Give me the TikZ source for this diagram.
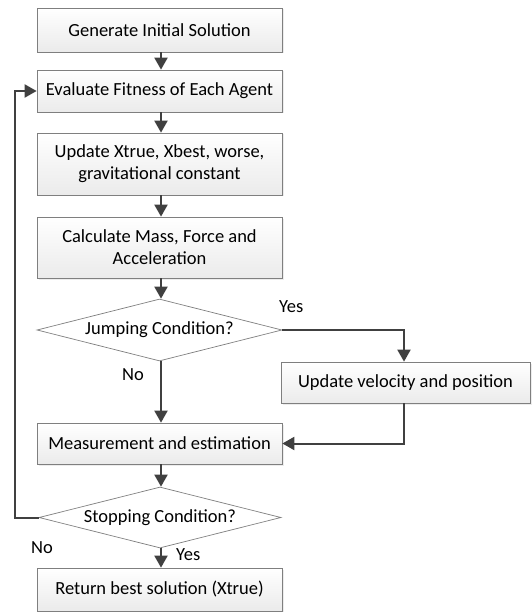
\documentclass[tikz,border=0pt]{standalone}
\usepackage{fontspec}
\setmainfont{Carlito}
\usetikzlibrary{arrows.meta, shapes.geometric, shadows}

\definecolor{linegray}{HTML}{404040}
\definecolor{boxgray}{HTML}{7F7F7F}

\tikzset{
  stepbox/.style={draw=boxgray, line width=0.7pt, top color=white, bottom color=gray!16,
    minimum width=245pt, inner sep=0pt, align=center, font=\fontsize{18.5}{22}\selectfont,
    drop shadow={opacity=0.15, shadow xshift=1.5pt, shadow yshift=-1.5pt}},
  decision/.style={draw=boxgray, line width=0.7pt, fill=white, diamond, inner sep=0pt,
    font=\fontsize{18.5}{22}\selectfont},
  flow/.style={draw=linegray, line width=2pt, -{Triangle[length=12pt, width=13pt]}},
  tag/.style={font=\fontsize{18.5}{22}\selectfont, inner sep=0pt}
}

\begin{document}
\begin{tikzpicture}[x=1pt, y=-1pt]
	\useasboundingbox (0,0) rectangle (531,612);
	% boxes of the main column
	\node[stepbox, minimum height=44pt] (init) at (159.5, 30) {Generate Initial Solution};
	\node[stepbox, minimum height=42pt] (eval) at (159.5, 91) {Evaluate Fitness of Each Agent};
	\node[stepbox, minimum height=62pt] (upd) at (159.5, 164) {Update Xtrue, Xbest, worse,\\gravitational constant};
	\node[stepbox, minimum height=61pt] (calc) at (159.5, 247.5) {Calculate Mass, Force and\\Acceleration};
	\node[decision, aspect=3.95, minimum width=245pt, minimum height=62pt] (jump) at (159.5, 330) {Jumping Condition?};
	\node[stepbox, minimum width=249pt, minimum height=41pt] (vel) at (405.5, 382.5) {Update velocity and position};
	\node[stepbox, minimum height=41pt] (meas) at (159.5, 443.5) {Measurement and estimation};
	\node[decision, aspect=3.97, minimum width=242pt, minimum height=61pt] (stop) at (160, 517.5) {Stopping Condition?};
	\node[stepbox, minimum height=43pt] (ret) at (159.5, 589.5) {Return best solution (Xtrue)};

	\coordinate (loop) at (15, 517.5);

	% connectors
	\draw[flow] (init.south -| 161,0) -- (eval.north -| 161,0);
	\draw[flow] (eval.south -| 161,0) -- (upd.north -| 161,0);
	\draw[flow] (upd.south -| 161,0) -- (calc.north -| 161,0);
	\draw[flow] (calc.south -| 161,0) -- (jump.north -| 161,0);
	\draw[flow] (jump.east) -| (vel.north -| 404,0);
	\draw[flow] (jump.south -| 161,0) -- (meas.north -| 161,0);
	\draw[flow] (vel.south -| 404,0) |- (meas.east);
	\draw[flow] (meas.south -| 161,0) -- (stop.north -| 161,0);
	\draw[flow] (stop.south -| 161,0) -- (ret.north -| 161,0);
	\draw[flow] (stop.west) -- (loop) |- (eval.west);

	% labels
	\node[tag, anchor=west] (yes1) at (279, 307) {Yes};
	\node[tag, anchor=west] (no1) at (122, 375) {No};
	\node[tag, anchor=west] (no2) at (31, 548) {No};
	\node[tag, anchor=west] (yes2) at (176, 555) {Yes};
\end{tikzpicture}
\end{document}
